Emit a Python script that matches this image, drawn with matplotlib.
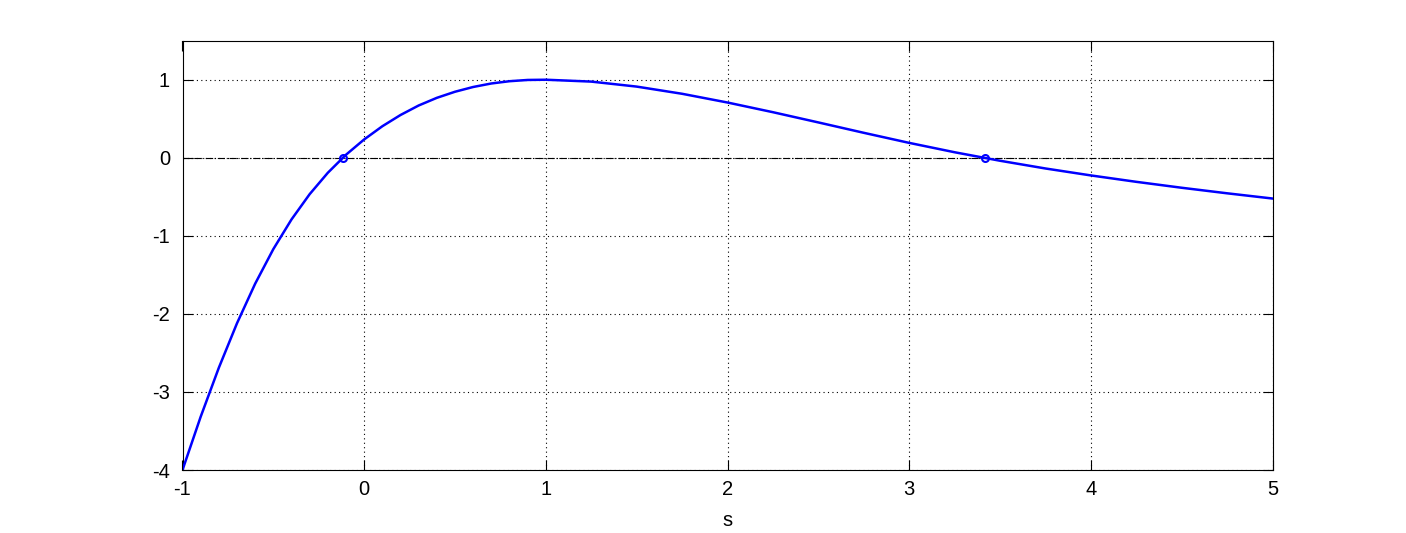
import matplotlib
matplotlib.use('Agg')
import matplotlib.pyplot as plt
import numpy as np

plt.rcParams['font.family'] = ['Liberation Sans', 'DejaVu Sans']
plt.rcParams['axes.unicode_minus'] = False

# curve
s_vals = [-1.0, -0.9, -0.8, -0.7, -0.6, -0.5, -0.4, -0.3, -0.2, -0.1,
          0.0, 0.1, 0.2, 0.3, 0.4, 0.5, 0.6, 0.7, 0.8, 0.9,
          1.0, 1.25, 1.5, 1.75, 2.0, 2.25, 2.5, 2.75, 3.0, 3.25,
          3.5, 3.75, 4.0, 4.25, 4.5, 4.75, 5.0]
y_vals = [-4.0, -3.318, -2.69, -2.12, -1.613, -1.17, -0.79, -0.466, -0.192, 0.039,
          0.235, 0.404, 0.548, 0.670, 0.768, 0.846, 0.907, 0.952, 0.981, 0.997,
          1.0, 0.976, 0.912, 0.820, 0.708, 0.584, 0.453, 0.320, 0.191, 0.071,
          -0.038, -0.137, -0.226, -0.308, -0.384, -0.455, -0.522]

# zero crossings
roots_s = [-0.115, 3.415]
roots_y = [0.0, 0.0]

x_ticks = [-1, 0, 1, 2, 3, 4, 5]
y_ticks = [-4, -3, -2, -1, 0, 1]

fig = plt.figure(figsize=(14.06, 5.33), dpi=100)
ax = fig.add_axes([182.5 / 1406, 63 / 533, 1090 / 1406, 429.3 / 533])

ax.plot([-1, 5], [0, 0], color='k', linestyle='-.', linewidth=0.8, zorder=2)
ax.plot(s_vals, y_vals, color=(0, 0, 1), linewidth=1.8, zorder=3)
ax.plot(roots_s, roots_y, 'o', color=(0, 0, 1), markersize=5,
        markerfacecolor='none', markeredgewidth=1.5, zorder=4)

ax.set_xlim(-1, 5)
ax.set_ylim(-4, 1.5)
ax.set_xticks(x_ticks)
ax.set_yticks(y_ticks)
ax.set_xticklabels([str(t) for t in x_ticks])
ax.set_yticklabels([str(t) for t in y_ticks])

ax.grid(True, color='k', linestyle=(0, (1, 3)), linewidth=0.8)
ax.set_axisbelow(True)
ax.tick_params(direction='in', length=7, width=0.8, top=True, right=True,
               labelsize=14.5, colors='k')
ax.tick_params(axis='x', pad=7)
ax.tick_params(axis='y', pad=9)
for sp in ax.spines.values():
    sp.set_linewidth(0.8)

ax.set_xlabel('s', fontsize=14.5, labelpad=9)

fig.savefig('out.png', dpi=100)
